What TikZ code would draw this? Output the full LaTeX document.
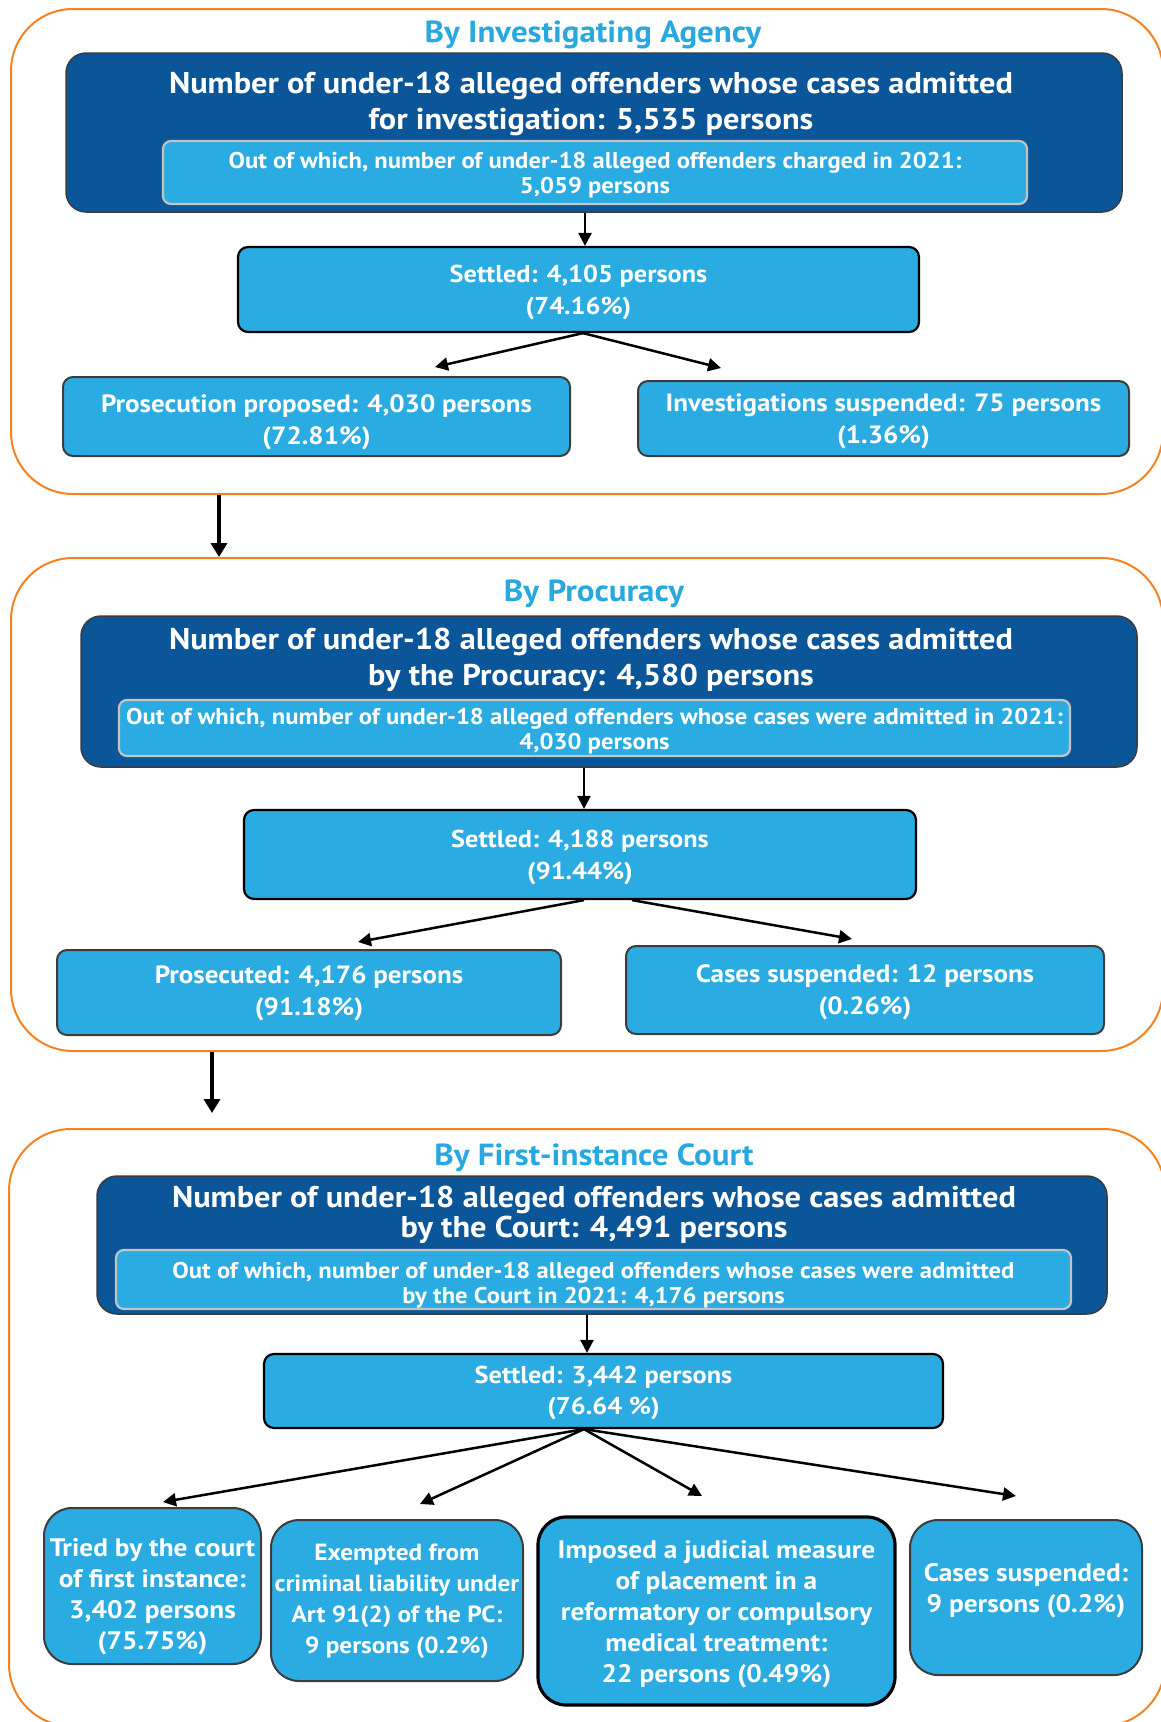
\documentclass[tikz,border=0pt]{standalone}
\usepackage{fontspec}
\setmainfont{PT Sans}[FakeStretch=1.08]
\usetikzlibrary{arrows.meta}
\definecolor{dkblue}{RGB}{11,86,153}
\definecolor{ltblue}{RGB}{42,171,226}
\definecolor{ttblue}{RGB}{41,168,224}
\definecolor{orng}{RGB}{245,130,32}
\definecolor{ingrey}{RGB}{195,195,195}
\definecolor{bdgrey}{RGB}{60,60,60}
\newcommand{\fs}[2]{\fontsize{#1}{#2}\selectfont\bfseries}
\tikzset{
  x=1pt, y=-1pt,
  secbox/.style={draw=orng, line width=2pt, rounded corners=62pt, inner sep=0pt},
  sectitle/.style={text=ttblue, font=\fs{30.5}{34}, inner sep=0pt},
  darkbox/.style={draw=bdgrey, line width=1.5pt, fill=dkblue, rounded corners=20pt, inner sep=0pt},
  maintext/.style={text=white, font=\fs{30}{36}, align=center, inner sep=0pt},
  innerbox/.style={draw=ingrey, line width=2.2pt, fill=ltblue, rounded corners=8pt, inner sep=0pt},
  innertext/.style={text=white, font=\fs{22.8}{25}, align=center, inner sep=0pt},
  setbox/.style={draw=black, line width=2.2pt, fill=ltblue, rounded corners=10pt, inner sep=0pt},
  settext/.style={text=white, font=\fs{24.4}{32}, align=center, inner sep=0pt},
  leafbox/.style={draw=bdgrey, line width=2pt, fill=ltblue, rounded corners=10pt, inner sep=0pt},
  leafbig/.style={text=white, font=\fs{25}{32}, align=center, inner sep=0pt},
  roundleaf/.style={draw=bdgrey, line width=2pt, fill=ltblue, rounded corners=28pt, inner sep=0pt},
  leaftext/.style={text=white, font=\fs{25.3}{31}, align=center, inner sep=0pt},
  arr/.style={draw=black, line width=2.5pt, -{Triangle[length=13pt,width=13pt]}},
  bigarr/.style={draw=black, line width=4.5pt, -{Triangle[length=14pt,width=16pt]}},
}
\begin{document}
\begin{tikzpicture}
\useasboundingbox (0,0) rectangle (1160,1722);
% ---------- Section 1 ----------
\node[secbox, minimum width=1152pt, minimum height=485pt] (sec1) at (587,251.5) {};
\node[sectitle] (title1) at (593,35) {By Investigating Agency};
\node[darkbox, minimum width=1056pt, minimum height=159pt] (dark1) at (594,132.5) {};
\node[maintext] (main1) at (591,103.7) {Number of under-18 alleged offenders whose cases admitted\\for investigation: 5,535 persons};
\node[innerbox, minimum width=864pt, minimum height=63pt] (inner1) at (595,172.5) {};
\node[innertext] (inner1t) at (595,175.3) {Out of which, number of under-18 alleged offenders charged in 2021:\\5,059 persons};
\node[setbox, minimum width=681pt, minimum height=85pt] (set1) at (578.5,289.5) {};
\node[settext] (set1t) at (578.5,292.5) {Settled: 4,105 persons\\(74.16\%)};
\node[leafbox, minimum width=507pt, minimum height=79pt] (pp1) at (316.5,416.5) {};
\node[leafbig] (pp1t) at (316.5,422) {Prosecution proposed: 4,030 persons\\(72.81\%)};
\node[leafbox, minimum width=491pt, minimum height=75pt] (is1) at (883.5,418.5) {};
\node[leafbig] (is1t) at (883.5,421.7) {Investigations suspended: 75 persons\\(1.36\%)};
\coordinate (e1a) at (435,367);
\coordinate (e1b) at (721,368);
\draw[arr] (dark1.south -| 585,0) -- (set1.north -| 585,0);
\draw[arr] (set1.south -| 583,0) -- (e1a);
\draw[arr] (set1.south -| 583,0) -- (e1b);
% ---------- Section 2 ----------
\node[secbox, minimum width=1152pt, minimum height=493pt] (sec2) at (587,804.5) {};
\draw[bigarr] (sec1.south -| 219,0) -- (sec2.north -| 219,0);
\node[sectitle] (title2) at (594,594) {By Procuracy};
\node[darkbox, minimum width=1056pt, minimum height=151pt] (dark2) at (609,691.5) {};
\node[maintext] (main2) at (591,660) {Number of under-18 alleged offenders whose cases admitted\\by the Procuracy: 4,580 persons};
\node[innerbox, minimum width=951pt, minimum height=56pt] (inner2) at (594.5,728) {};
\node[innertext] (inner2t) at (594.5,730.7) {Out of which, number of under-18 alleged offenders whose cases were admitted in 2021:\\4,030 persons};
\node[setbox, minimum width=672pt, minimum height=89pt] (set2) at (580,854.5) {};
\node[settext] (set2t) at (580,857.2) {Settled: 4,188 persons\\(91.44\%)};
\node[leafbox, minimum width=504pt, minimum height=85pt] (pr2) at (309,992.5) {};
\node[leafbig] (pr2t) at (309,993) {Prosecuted: 4,176 persons\\(91.18\%)};
\node[leafbox, minimum width=478pt, minimum height=88pt] (cs2) at (865,990) {};
\node[leafbig] (cs2t) at (865,992.7) {Cases suspended: 12 persons\\(0.26\%)};
\coordinate (e2a) at (358,942);
\coordinate (e2b) at (852,939);
\draw[arr] (dark2.south -| 584,0) -- (set2.north -| 584,0);
\draw[arr] (set2.south -| 584,0) -- (e2a);
\draw[arr] (set2.south -| 632,0) -- (e2b);
% ---------- Section 3 ----------
\node[secbox, minimum width=1156pt, minimum height=597pt] (sec3) at (587,1427.5) {};
\coordinate (s3top) at (212,1113);
\draw[bigarr] (sec2.south -| 212,0) -- (s3top);
\node[sectitle] (title3) at (594,1158) {By First-instance Court};
\node[darkbox, minimum width=1010pt, minimum height=138pt] (dark3) at (602,1245) {};
\node[maintext, font=\fs{30}{30}] (main3) at (594,1215) {Number of under-18 alleged offenders whose cases admitted\\by the Court: 4,491 persons};
\node[innerbox, minimum width=955pt, minimum height=59pt] (inner3) at (593.5,1279.5) {};
\node[innertext] (inner3t) at (593.5,1285) {Out of which, number of under-18 alleged offenders whose cases were admitted\\by the Court in 2021: 4,176 persons};
\node[setbox, minimum width=679pt, minimum height=74pt] (set3) at (603.5,1391) {};
\node[settext, font=\fs{24.4}{31}] (set3t) at (603.5,1392.7) {Settled: 3,442 persons\\(76.64 \%)};
\node[roundleaf, minimum width=217pt, minimum height=156pt] (b1) at (152.5,1586) {};
\node[leaftext] (b1t) at (152.5,1596.5) {Tried by the court\\of first instance:\\3,402 persons\\(75.75\%)};
\node[roundleaf, minimum width=252pt, minimum height=161pt] (b2) at (397,1600.5) {};
\node[leaftext, font=\fs{23.4}{31}] (b2t) at (397,1601.3) {Exempted from\\criminal liability under\\Art 91(2) of the PC:\\9 persons (0.2\%)};
\node[roundleaf, draw=black, line width=3.2pt, minimum width=357pt, minimum height=188pt] (b3) at (716.5,1611) {};
\node[leaftext] (b3t) at (716.5,1614.2) {Imposed a judicial measure\\of placement in a\\reformatory or compulsory\\medical treatment:\\22 persons (0.49\%)};
\node[roundleaf, minimum width=232pt, minimum height=155pt] (b4) at (1026,1597.5) {};
\node[leaftext] (b4t) at (1026,1590.8) {Cases suspended:\\9 persons (0.2\%)};
\coordinate (e3a) at (163,1502);
\coordinate (e3b) at (420,1504);
\coordinate (e3c) at (702,1496);
\coordinate (e3d) at (1016,1496);
\draw[arr] (dark3.south -| 587,0) -- (set3.north -| 587,0);
\draw[arr] (set3.south -| 584,0) -- (e3a);
\draw[arr] (set3.south -| 584,0) -- (e3b);
\draw[arr] (set3.south -| 584,0) -- (e3c);
\draw[arr] (set3.south -| 584,0) -- (e3d);
\end{tikzpicture}
\end{document}
